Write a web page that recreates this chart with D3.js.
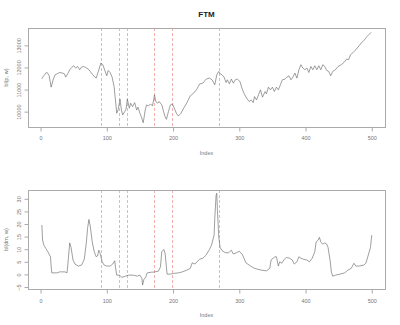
<!DOCTYPE html>
<html><head><meta charset="utf-8">
<script src="https://cdn.jsdelivr.net/npm/d3@7/dist/d3.min.js"></script>
<style>body{margin:0;background:#fff}svg{display:block}</style>
</head><body>
<script>
const title = "FTM";
const xTicks = [0,100,200,300,400,500];
const topYTicks = [10000,11000,12000,13000];
const botYTicks = [-5,0,5,10,15,20,25,30];
const eventIdx = [91,119,130,171,199,270];

const topIdx = [2,4,8,10,13,16,19,22,25,29,33,36,38,41,44,47,50,53,56,59,62,65,68,72,75,79,82,84,88,91,94,97,100,102,105,108,111,113,115,117,120,122,124,127,129,131,134,136,139,142,145,147,150,152,155,158,160,163,166,169,172,174,177,179,183,185,188,190,193,196,199,202,205,208,212,216,220,223,226,231,236,240,245,250,255,259,263,266,269,271,274,277,280,282,285,288,291,294,297,301,304,307,311,315,318,321,323,326,329,332,335,339,341,344,347,350,353,356,359,362,365,369,372,375,378,381,384,387,390,393,396,399,402,405,408,411,414,417,420,423,426,429,432,435,438,441,445,449,454,458,462,465,468,472,475,478,481,484,487,490,493,496,499];
const topVal = [11486,11591,11745,11773,11623,11109,11441,11668,11714,11773,11745,11714,11564,11714,11895,12000,12077,11973,12045,11895,12018,12045,12000,11927,11818,11668,11564,11518,11895,12200,12123,11864,11623,11864,11773,11564,11136,10532,9927,10077,10564,10077,9850,10000,10109,10564,10155,10382,10227,10409,10077,10200,9927,9773,9500,10077,10305,10259,10350,10259,10759,10455,10382,10455,10305,10077,9773,9655,10000,10305,10350,10155,9927,9805,9927,10155,10350,10532,10714,10836,11018,11250,11291,11473,11518,11441,11214,11668,11818,11714,11668,11564,11318,11441,11259,11473,11291,11441,11473,11364,11064,10836,10609,10455,10532,10409,10682,10532,10759,10986,10655,10909,10805,11109,10986,11109,10909,11109,10986,11214,11441,11473,11564,11623,11441,11564,11745,11518,11895,12123,11973,11895,11973,11773,12045,11895,12077,11895,12077,11895,12123,12045,11864,11818,11623,11818,11895,12045,12123,12227,12382,12350,12577,12682,12773,12882,12986,13109,13182,13291,13409,13500,13591];

const botIdx = [2,3,5,8,11,15,16,17,25,29,37,40,42,44,46,49,52,57,62,66,69,71,73,75,78,81,84,86,88,90,93,96,100,105,109,112,113,115,119,123,128,133,140,146,150,153,154,156,159,161,168,171,178,181,183,186,188,191,196,201,208,213,221,226,229,233,240,245,250,255,258,262,263,265,266,267,269,271,274,279,284,288,291,296,300,305,310,317,323,333,341,346,348,351,354,356,359,361,364,368,371,376,380,383,387,390,393,397,402,406,410,414,416,419,421,423,426,429,432,434,437,439,441,445,452,459,464,469,473,476,481,488,491,494,498,500];
const botVal = [19.6,13.6,11.6,10.3,9.0,7.0,3.0,0.6,0.6,1.0,1.0,0.6,6.4,12.5,10.7,5.7,4.1,3.3,3.7,6.0,12.3,18.3,21.8,19.2,12.9,9.0,7.0,7.3,9.6,8.3,5.0,3.7,3.3,3.3,4.1,5.4,3.0,-0.3,-0.3,-1.2,-0.7,-0.3,-0.3,-0.7,-0.3,-1.6,-4.2,-2.0,-1.0,0.6,0.9,0.9,1.3,3.0,9.0,9.9,8.3,0.1,0.1,0.4,0.6,0.9,1.7,2.4,4.6,4.1,6.0,6.4,7.7,9.9,11.6,15.6,22.2,31.5,32.2,25.5,14.9,10.7,9.4,8.6,8.6,9.6,8.1,8.6,9.2,7.7,4.6,3.3,2.4,1.7,1.4,2.4,5.7,6.4,7.0,7.0,3.3,5.0,4.4,6.0,6.7,6.4,5.7,4.1,5.0,7.0,6.4,6.0,5.7,5.0,6.4,9.0,12.9,13.6,14.7,12.9,12.0,12.5,12.0,10.7,5.7,1.0,-0.7,-0.3,0.1,0.6,1.7,2.4,4.4,3.3,3.3,3.7,4.4,7.0,10.7,15.6];

const topYLim = [9305, 13786];
const botYLim = [-5.8, 33.5];
const xLim = [1 - 0.04*499, 500 + 0.04*499];

const W = 400, H = 325;
const svg = d3.select("body").append("svg").attr("width", W).attr("height", H)
  .style("font-family", "Arial, 'Liberation Sans', sans-serif");

const left = 28, right = 385;
const x = d3.scaleLinear().domain(xLim).range([left, right]);

svg.append("text").attr("x", (left+right)/2).attr("y", 17).attr("text-anchor","middle")
  .attr("font-size", 8).attr("font-weight","bold").attr("fill","#1a1a2e").text(title);

function panel(top, bottom, yLim, yTicks, idx, val, ylab, xTickY, xLabY) {
  const y = d3.scaleLinear().domain(yLim).range([bottom, top]);
  const g = svg.append("g");
  g.selectAll("line.ev").data(eventIdx).join("line")
    .attr("x1", d => Math.round(x(d))+0.5).attr("x2", d => Math.round(x(d))+0.5)
    .attr("y1", top).attr("y2", bottom)
    .attr("stroke", "#f5b0b0").attr("stroke-width", 1).attr("stroke-dasharray", "3,2");
  const line = d3.line().x((d,i) => x(idx[i])).y(d => y(d));
  g.append("path").datum(val).attr("d", line).attr("fill","none")
    .attr("stroke","#6a6a6a").attr("stroke-width",0.65);
  g.append("rect").attr("x", left+0.5).attr("y", top+0.5).attr("width", right-left).attr("height", bottom-top)
    .attr("fill","none").attr("stroke","#aaa").attr("stroke-width",1);
  const xa = g.append("g").attr("transform", `translate(0,${bottom+0.5})`)
    .call(d3.axisBottom(x).tickValues(xTicks).tickSize(4).tickSizeOuter(0));
  xa.select(".domain").attr("d", `M${x(xTicks[0])},0H${x(xTicks[xTicks.length-1])}`).attr("stroke","#aaa");
  xa.selectAll(".tick line").attr("stroke","#aaa");
  xa.selectAll(".tick text").attr("fill","#777").attr("font-size",5.5).attr("dy",null).attr("y", xTickY - bottom);
  const ya = g.append("g").attr("transform", `translate(${left+0.5},0)`)
    .call(d3.axisLeft(y).tickValues(yTicks).tickSize(4).tickSizeOuter(0).tickFormat(d3.format("d")));
  ya.select(".domain").attr("d", `M0,${y(yTicks[0])}V${y(yTicks[yTicks.length-1])}`).attr("stroke","#aaa");
  ya.selectAll(".tick line").attr("stroke","#aaa");
  ya.selectAll(".tick text").attr("fill","#777").attr("font-size",5.5)
    .attr("x", null).attr("dy", null).attr("text-anchor","middle")
    .attr("transform","translate(-8,0) rotate(-90)");
  g.append("text").attr("transform", `translate(7.5,${(top+bottom)/2}) rotate(-90)`)
    .attr("text-anchor","middle").attr("font-size",5.5).attr("fill","#777").text(ylab);
  g.append("text").attr("x",(left+right)/2).attr("y",xLabY).attr("text-anchor","middle")
    .attr("font-size",5.5).attr("fill","#777").text("Index");
}

panel(28, 127, topYLim, topYTicks, topIdx, topVal, "bl(p, w)", 139.5, 154.5);
panel(190, 289, botYLim, botYTicks, botIdx, botVal, "bl(dm, w)", 302.5, 316.5);
</script>
</body></html>
